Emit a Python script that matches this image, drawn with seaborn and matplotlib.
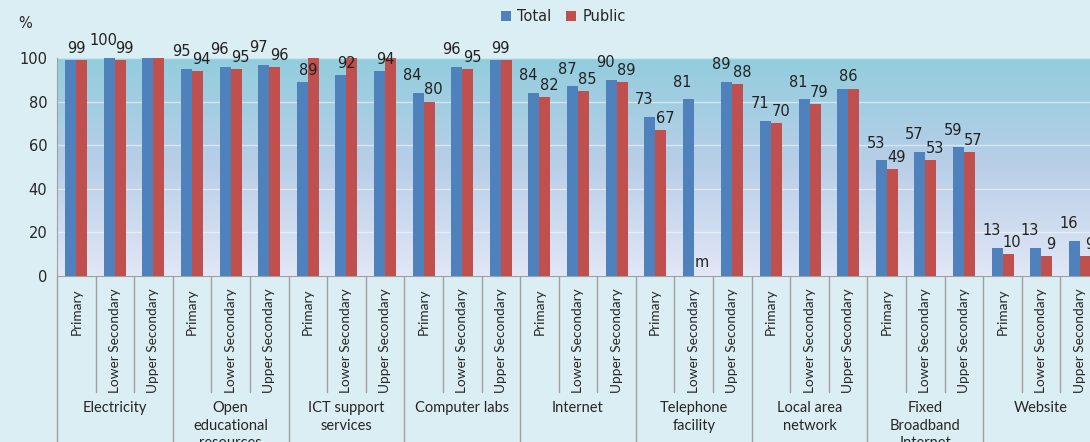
import matplotlib
matplotlib.use('Agg')
import matplotlib.pyplot as plt
import matplotlib.transforms as mtransforms
from matplotlib.colors import LinearSegmentedColormap
import numpy as np
import pandas as pd
import seaborn as sns

# %%
# Data
groups = ['Electricity', 'Open\neducational\nresources', 'ICT support\nservices',
          'Computer labs', 'Internet', 'Telephone\nfacility', 'Local area\nnetwork',
          'Fixed\nBroadband\nInternet', 'Website']
levels = ['Primary', 'Lower Secondary', 'Upper Secondary']

total = [99, 100, 100, 95, 96, 97, 89, 92, 94, 84, 96, 99, 84, 87, 90,
         73, 81, 89, 71, 81, 86, 53, 57, 59, 13, 13, 16]
public = [99, 99, 100, 94, 95, 96, 100, 100, 100, 80, 95, 99, 82, 85, 89,
          67, np.nan, 88, 70, 79, 86, 49, 53, 57, 10, 9, 9]

# labels as printed on the chart ('' = not shown)
total_lbl = ['99', '100', '', '95', '96', '97', '89', '92', '94', '84', '96', '99',
             '84', '87', '90', '73', '81', '89', '71', '81', '86', '53', '57', '59',
             '13', '13', '16']
public_lbl = ['', '99', '', '94', '95', '96', '', '', '', '80', '95', '',
              '82', '85', '89', '67', 'm', '88', '70', '79', '', '49', '53', '57',
              '10', '9', '9']

# %%
sns.set_style('white')
plt.rcParams['font.family'] = ['DejaVu Sans']

keys = [f'{g}|{l}' for g in groups for l in levels]
df = pd.concat([
    pd.DataFrame({'key': keys, 'value': total, 'series': 'Total'}),
    pd.DataFrame({'key': keys, 'value': public, 'series': 'Public'}),
]).dropna()

fig_bg = '#DAEEF3'
fig = plt.figure(figsize=(10.9, 4.42), dpi=100, facecolor=fig_bg)
W, H = 1090, 442
ax = fig.add_axes([57 / W, (H - 276) / H, 1042 / W, 218 / H])

# gradient plot area
cmap = LinearSegmentedColormap.from_list('bg', ['#E1E7F6', '#B9CFE8', '#92CDDD'])
grad = np.linspace(0, 1, 256).reshape(-1, 1)
ax.imshow(grad, extent=[0, 1, 0, 1], transform=ax.transAxes, origin='lower',
          aspect='auto', cmap=cmap, zorder=0)

sns.barplot(data=df, x='key', y='value', hue='series', order=keys,
            hue_order=['Total', 'Public'], palette=['#4F81BD', '#C0504D'],
            width=0.57, errorbar=None, linewidth=0, saturation=1, ax=ax, zorder=3)

ax.set_xlim(-0.5, len(keys) - 0.5)
ax.set_ylim(0, 100)
ax.set_yticks(range(0, 101, 20))
ax.tick_params(axis='y', length=4, color='#999999', labelsize=10.5, pad=3)
ax.yaxis.grid(True, color='white', alpha=0.5, lw=1, zorder=1)
ax.set_axisbelow(True)
for s in ('top', 'right'):
    ax.spines[s].set_visible(False)
for s in ('left', 'bottom'):
    ax.spines[s].set_color('#A0A0A0')
ax.set_xlabel('')
ax.set_ylabel('')

ax.set_xticks(range(len(keys)))
ax.set_xticklabels([l for g in groups for l in levels], rotation=90,
                   family='Lato', fontsize=9.8)
ax.tick_params(axis='x', length=0, pad=9)

# separators and group labels under the axis
tr = mtransforms.blended_transform_factory(ax.transData, ax.transAxes)
for i in range(len(keys) + 1):
    x = i - 0.5
    y_end = -0.76 if i % 3 == 0 else -0.53
    ax.plot([x, x], [0, y_end], transform=tr, color='#A0A0A0', lw=1, clip_on=False)
for j, g in enumerate(groups):
    ax.text(j * 3 + 1, -0.575, g, transform=tr, ha='center', va='top',
            family='Lato', fontsize=10.5, linespacing=1.3, clip_on=False)

# data labels
bars = {}
for cont, name in zip(ax.containers, ['Total', 'Public']):
    for b in cont:
        if np.isnan(b.get_height()):
            continue
        i = int(round(b.get_x() + b.get_width() / 2))
        bars[(name, i)] = b

lab_kw = dict(textcoords='offset points', fontsize=10.5, color='#222222',
              va='bottom', clip_on=False, annotation_clip=False)
for i in range(len(keys)):
    tb = bars[('Total', i)]
    pb = bars.get(('Public', i))
    tx = tb.get_x() + tb.get_width() / 2
    px = tx + tb.get_width()
    if public_lbl[i] == 'm':
        ax.annotate('m', (px, 0), xytext=(2, 4), ha='center', **lab_kw)
    elif public_lbl[i]:
        ax.annotate(public_lbl[i], (px, public[i]), xytext=(3, 3), ha='center', **lab_kw)
    if total_lbl[i]:
        if pb is not None and not public_lbl[i]:
            ax.annotate(total_lbl[i], ((tx + px) / 2, total[i]), xytext=(0, 3),
                        ha='center', **lab_kw)
        else:
            ax.annotate(total_lbl[i], (tx, total[i]), xytext=(-4, 7),
                        ha='center', **lab_kw)

sns.move_legend(ax, 'center', bbox_to_anchor=(0.486, 1.19), ncol=2, frameon=False,
                title=None, fontsize=10.5, handlelength=0.7, handleheight=0.7,
                handletextpad=0.4, columnspacing=1.0)

fig.text(25 / W, 1 - 24 / H, '%', ha='center', va='center', fontsize=10.5)

plt.savefig('out.png', dpi=100, facecolor=fig_bg)
